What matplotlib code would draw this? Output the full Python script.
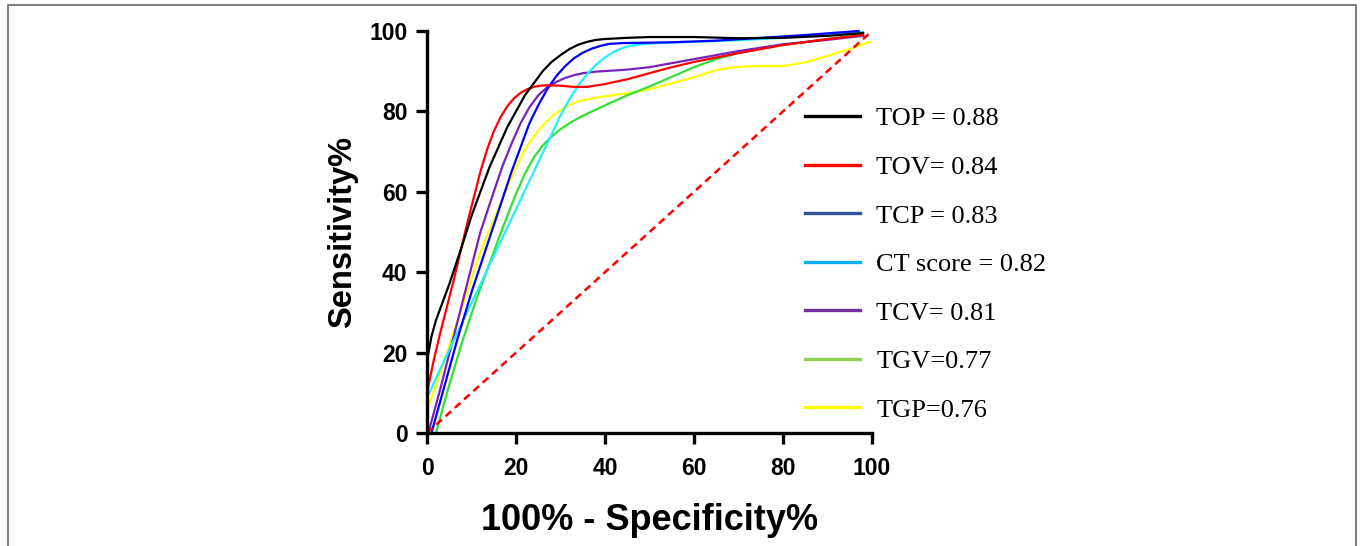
import matplotlib
matplotlib.use('Agg')
import matplotlib.pyplot as plt
from matplotlib.lines import Line2D

plt.rcParams['font.family'] = ['Liberation Sans', 'DejaVu Sans']

# ROC curves (100% - specificity, sensitivity)
top_x = [0, 1, 2, 3.5, 5, 6.5, 8, 10, 12, 14, 16, 18, 20, 22, 24, 26, 28, 30, 32, 34, 36, 38, 40, 45, 50, 60, 70, 80, 90, 98]
top_y = [18, 24, 28, 32.5, 37, 42, 47, 54, 60, 66, 71, 76, 80, 84, 87, 90, 92.3, 94, 95.5, 96.6, 97.3, 97.8, 98, 98.3, 98.5, 98.5, 98.2, 98.3, 98.8, 99.5]

tov_x = [0, 1.5, 3, 4.5, 6, 7.5, 9, 10.5, 12, 13.5, 15, 16.5, 18, 19.5, 21, 22.5, 24, 25.5, 27, 30, 33, 36, 40, 45, 50, 55, 60, 70, 80, 90, 98]
tov_y = [10, 18, 25, 31.5, 38, 45, 52, 58.5, 65, 70.5, 75, 78.5, 81.2, 83.2, 84.6, 85.5, 86.1, 86.4, 86.5, 86.4, 86.1, 86.1, 86.8, 88, 89.5, 91, 92.3, 94.5, 96.5, 98, 99]

tcp_x = [1, 4, 7, 10, 13, 16, 19, 21, 23, 25, 27, 29, 31, 33, 35, 37, 39, 41, 44, 50, 55, 65, 75, 85, 97]
tcp_y = [0, 12, 24, 35, 45, 55, 65, 71, 77, 81.5, 85.5, 88.7, 91.2, 93.2, 94.6, 95.6, 96.3, 96.8, 97, 97.1, 97.2, 97.6, 98.3, 99, 100]

ct_x = [0, 3, 6, 9, 12, 15, 18, 21, 24, 27, 30, 32, 34, 36, 38, 40, 42, 44, 46, 49, 52, 60, 70, 80, 90, 98]
ct_y = [8.7, 16, 23, 30, 37, 44, 51, 58, 65, 72, 79, 83, 86.5, 89.3, 91.6, 93.4, 94.8, 95.8, 96.4, 96.8, 97, 97.3, 97.7, 98.3, 99, 99.8]

tcv_x = [0.3, 3, 6, 9, 12, 15, 17, 19, 21, 23, 25, 27, 29, 31, 33, 35, 38, 41, 45, 50, 55, 60, 70, 80, 90, 98]
tcv_y = [0, 11, 24, 37, 50, 60, 66.5, 72, 77, 81, 84, 86, 87.3, 88.3, 89, 89.5, 89.9, 90.1, 90.4, 91, 92, 93, 95, 96.7, 97.8, 98.8]

tgv_x = [2, 5, 8, 11, 14, 17, 20, 22, 24, 26, 28, 30, 32.5, 35, 37.5, 40, 45, 50, 55, 60, 65, 70, 75, 80, 90, 98]
tgv_y = [0, 12, 23, 33, 42, 51, 59.5, 64.5, 68.5, 71.5, 73.8, 75.6, 77.4, 78.9, 80.2, 81.5, 84, 86.2, 88.6, 91, 93, 94.5, 95.6, 96.5, 98, 99.3]

tgp_x = [0, 3, 6, 9, 12, 15, 18, 20, 22, 24, 26, 28, 30, 32, 34, 36.5, 39, 45, 50, 55, 60, 65, 70, 75, 80, 85, 90, 95, 99.5]
tgp_y = [5.7, 15, 25, 35, 45, 53, 61, 66, 70.5, 73.8, 76.5, 78.7, 80.3, 81.6, 82.5, 83.1, 83.6, 84.5, 85.5, 87, 88.5, 90.3, 91.1, 91.3, 91.3, 92.2, 93.8, 95.5, 97.3]

ref_x = [0, 100]
ref_y = [0, 100]

labels = ["TOP = 0.88", "TOV= 0.84", "TCP = 0.83", "CT score = 0.82",
          "TCV= 0.81", "TGV=0.77", "TGP=0.76"]
line_colors = ["black", "#ff0000", "#0000ff", "#22eeff", "#7a22b8", "#33e033", "#ffff00"]
legend_colors = ["black", "#ff0000", "#2f5597", "#00b0f0", "#7030a0", "#92d050", "#ffff00"]
curves = [(top_x, top_y), (tov_x, tov_y), (tcp_x, tcp_y), (ct_x, ct_y),
          (tcv_x, tcv_y), (tgv_x, tgv_y), (tgp_x, tgp_y)]

fig = plt.figure(figsize=(13.6, 5.46), dpi=100)
ax = fig.add_axes([427/1360, 1 - 433/546, 445/1360, 402/546])

# draw back to front so black sits on top
for (xs, ys), c in reversed(list(zip(curves, line_colors))):
    ax.plot(xs, ys, color=c, linewidth=1.6, clip_on=False, solid_joinstyle='round')

ax.plot(ref_x, ref_y, color='#ff0000', linestyle=(0, (3, 2)), linewidth=1.8, clip_on=False)

ax.set_xlim(0, 100)
ax.set_ylim(0, 100)
ax.set_xticks([0, 20, 40, 60, 80, 100])
ax.set_yticks([0, 20, 40, 60, 80, 100])
for s in ['top', 'right']:
    ax.spines[s].set_visible(False)
for s in ['left', 'bottom']:
    ax.spines[s].set_linewidth(2.4)
ax.tick_params(width=2.4, length=8, labelsize=16.5, pad=6)
ax.tick_params(axis='x', pad=9)
for lab in ax.get_xticklabels() + ax.get_yticklabels():
    lab.set_fontweight('bold')

ax.set_xlabel("100% - Specificity%", fontsize=26, fontweight='bold', labelpad=17)
ax.set_ylabel("Sensitivity%", fontsize=23.5, fontweight='bold', labelpad=8)

handles = [Line2D([0], [0], color=c, linewidth=2.4) for c in legend_colors]
fig.legend(handles, labels, loc='upper left',
           bbox_to_anchor=(805/1360, 1 - 107/546),
           frameon=False, borderpad=0, borderaxespad=0,
           handlelength=2.1, handletextpad=0.6, labelspacing=0.95,
           prop={'family': 'Liberation Serif', 'size': 19})

# thin grey frame around the panel
fig.add_artist(Line2D([8/1360, 8/1360, 1356/1360, 1356/1360], [0, 1 - 5/546, 1 - 5/546, 0],
                      color='#808080', linewidth=1.5))

fig.savefig('out.png', dpi=100)
